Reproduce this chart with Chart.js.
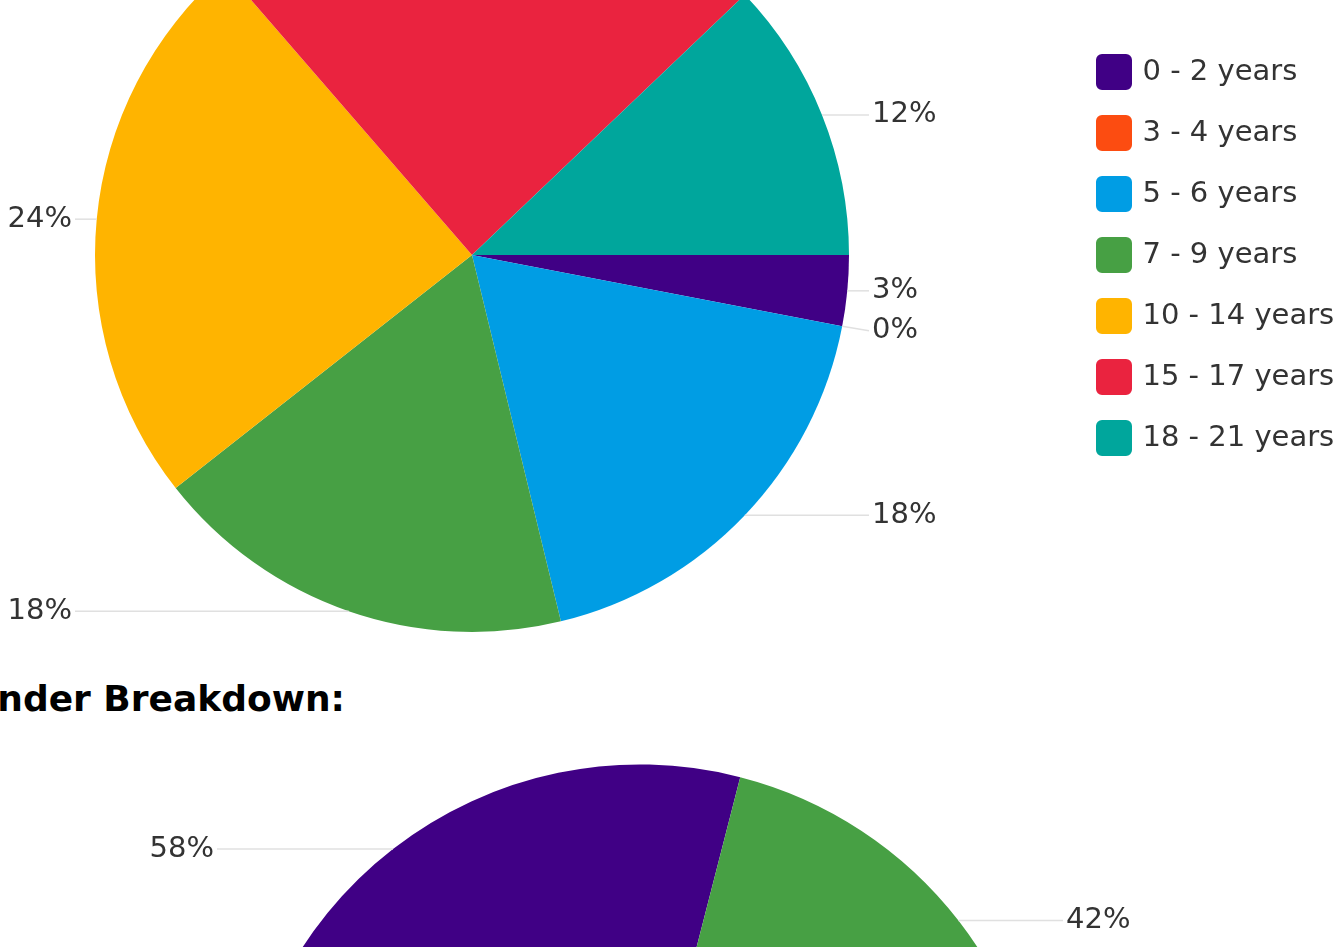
<!DOCTYPE html>
<html lang="en">
<head>
  <meta charset="UTF-8">
  <title>Age & Gender Breakdown</title>
  <script src="https://cdn.jsdelivr.net/npm/chart.js"></script>
  <style>
    body {
      margin: 0;
      overflow: hidden;
      background: #fff;
    }
    .page {
      position: relative;
      width: 1335px;
      height: 947px;
      overflow: hidden;
    }
    canvas {
      position: absolute;
    }
    #ageChart { left: -124px; top: -146px; }
    #genderChart { left: 0; top: 716px; }
    h3 {
      position: absolute;
      right: 990px; /* right edge of the text sits at x=345 */
      top: 681px;
      margin: 0;
      font: bold 36px/36px "DejaVu Sans", sans-serif;
      color: #000;
      white-space: nowrap;
    }
  </style>
</head>
<body>
<div class="page">
  <canvas id="ageChart" width="1462" height="802"></canvas>
  <h3>Gender Breakdown:</h3>
  <canvas id="genderChart" width="1280" height="500"></canvas>
</div>

<script>
  // age breakdown (share of respondents, %)
  const ageLabels = ['0 - 2 years', '3 - 4 years', '5 - 6 years', '7 - 9 years', '10 - 14 years', '15 - 17 years', '18 - 21 years'];
  const ageValues = [3, 0, 18, 18, 24, 24, 12];
  const ageColors = ['#400085', '#fc4c11', '#009de4', '#47a044', '#ffb400', '#ea233f', '#00a69c'];

  // gender breakdown (%)
  const genderLabels = ['Female', 'Male'];
  const genderValues = [58, 42];
  const genderColors = ['#400085', '#47a044'];

  Chart.defaults.font.family = '"DejaVu Sans", sans-serif';
  Chart.defaults.color = '#333';

  // percentage labels outside the pie, joined to the slice by a thin line
  const outsideLabels = {
    id: 'outsideLabels',
    afterDatasetsDraw(chart, args, opts) {
      const meta = chart.getDatasetMeta(0);
      const values = chart.data.datasets[0].data;
      const total = values.reduce((a, b) => a + b, 0);
      const ctx = chart.ctx;
      const left = [], right = [];

      meta.data.forEach((arc, i) => {
        const {x, y, startAngle, endAngle, outerRadius} =
          arc.getProps(['x', 'y', 'startAngle', 'endAngle', 'outerRadius'], true);
        const mid = (startAngle + endAngle) / 2;
        const onRight = Math.cos(mid) >= 0;
        const item = {
          px: x + Math.cos(mid) * outerRadius,
          py: y + Math.sin(mid) * outerRadius,
          colX: onRight ? x + outerRadius + opts.gap : x - outerRadius - opts.gap,
          onRight: onRight,
          text: Math.round(values[i] / total * 100) + '%'
        };
        item.ly = item.py;
        (onRight ? right : left).push(item);
      });

      ctx.save();
      ctx.font = opts.fontSize + 'px "DejaVu Sans", sans-serif';
      ctx.textBaseline = 'middle';
      [left, right].forEach(side => {
        side.sort((a, b) => a.py - b.py);
        for (let k = 1; k < side.length; k++) {
          side[k].ly = Math.max(side[k].py, side[k - 1].ly + opts.spacing);
        }
        side.forEach(it => {
          ctx.strokeStyle = '#e0e0e0';
          ctx.lineWidth = 1.5;
          ctx.beginPath();
          ctx.moveTo(it.px, it.py);
          ctx.lineTo(it.colX, it.ly);
          ctx.stroke();
          ctx.fillStyle = '#333';
          ctx.textAlign = it.onRight ? 'left' : 'right';
          ctx.fillText(it.text, it.colX + (it.onRight ? 3 : -3), it.ly);
        });
      });
      ctx.restore();
    }
  };

  // rounded legend squares: a thick stroke in the same colour widens the box
  function legendItems(chart) {
    const items = Chart.overrides.pie.plugins.legend.labels.generateLabels(chart);
    items.forEach(it => {
      it.strokeStyle = it.fillStyle;
      it.lineWidth = 8;
      it.borderRadius = 2;
    });
    return items;
  }

  new Chart(document.getElementById('ageChart'), {
    type: 'pie',
    data: {
      labels: ageLabels,
      datasets: [{
        data: ageValues,
        backgroundColor: ageColors,
        borderWidth: 0,
        radius: 377
      }]
    },
    options: {
      responsive: false,
      animation: false,
      events: [],
      rotation: 90,
      plugins: {
        legend: {
          position: 'right',
          maxWidth: 270,
          labels: {
            font: { size: 29 },
            color: '#333',
            boxWidth: 28,
            boxHeight: 28,
            padding: 32,
            generateLabels: legendItems
          }
        },
        tooltip: { enabled: false },
        outsideLabels: { gap: 20, spacing: 40, fontSize: 29 }
      }
    },
    plugins: [outsideLabels]
  });

  new Chart(document.getElementById('genderChart'), {
    type: 'pie',
    data: {
      labels: genderLabels,
      datasets: [{
        data: genderValues,
        backgroundColor: genderColors,
        borderWidth: 0,
        radius: 403
      }]
    },
    options: {
      responsive: false,
      animation: false,
      events: [],
      rotation: -90,
      circumference: 180,
      plugins: {
        legend: { display: false },
        tooltip: { enabled: false },
        outsideLabels: { gap: 20, spacing: 40, fontSize: 29 }
      }
    },
    plugins: [outsideLabels]
  });
</script>
</body>
</html>
